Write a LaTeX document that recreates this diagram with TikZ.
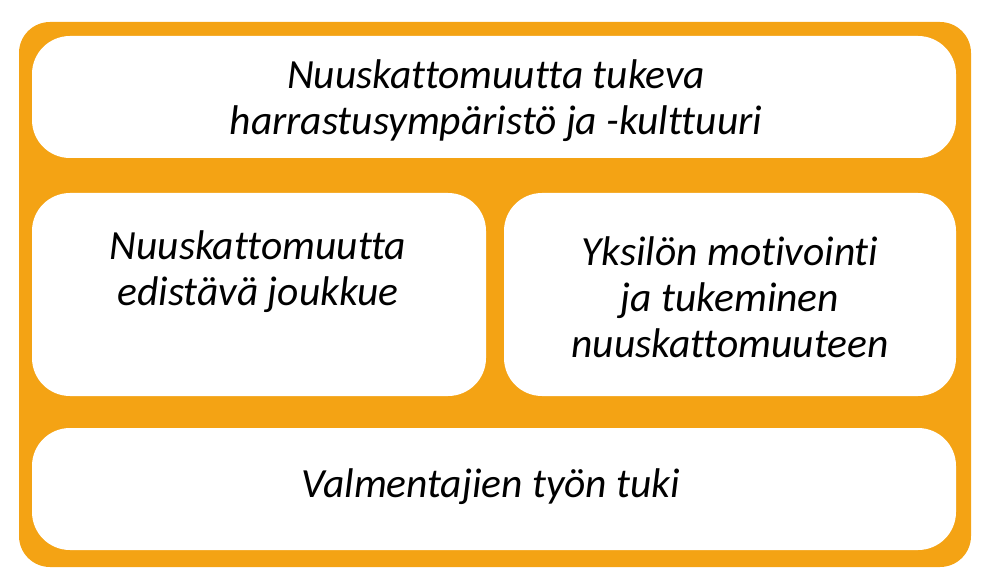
\documentclass[tikz,border=0pt]{standalone}
\usepackage{fontspec}
\setmainfont[Ligatures=NoCommon]{Carlito}
\definecolor{frameorange}{HTML}{F4A314}
\newcommand\lineonestrut{\rule{0pt}{40pt}}
\begin{document}
\begin{tikzpicture}[x=1pt,y=-1pt,
  panel/.style={fill=white,draw=none,rounded corners=38pt},
  label/.style={font=\itshape\fontsize{41.5}{46}\selectfont,align=center,inner sep=0pt,text=black,anchor=north}]
\useasboundingbox (0,0) rectangle (988,580);
\fill[frameorange,rounded corners=31pt] (19,22) rectangle (971,567);
\fill[panel] (32,36) rectangle (956,158);
\fill[panel] (32,193) rectangle (486,396);
\fill[panel] (504,193) rectangle (956,396);
\fill[panel] (32,428) rectangle (956,550);
\node[label] (top) at (496,48) {\lineonestrut Nuuskattomuutta tukeva\\harrastusympäristö ja -kulttuuri};
\node[label] (left) at (258,219) {\lineonestrut Nuuskattomuutta\\edistävä joukkue};
\node[label] (right) at (730,225) {\lineonestrut Yksilön motivointi\\ja tukeminen\\nuuskattomuuteen};
\node[label] (bottom) at (491,457) {\lineonestrut Valmentajien työn tuki};
\end{tikzpicture}
\end{document}
